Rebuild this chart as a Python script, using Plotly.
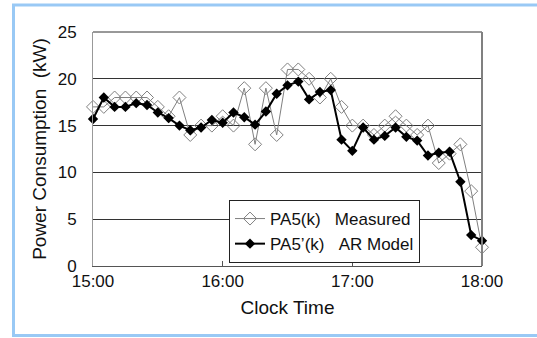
import plotly.graph_objects as go
import pandas as pd

times = ["15:00", "15:05", "15:10", "15:15", "15:20", "15:25", "15:30", "15:35", "15:40", "15:45",
         "15:50", "15:55", "16:00", "16:05", "16:10", "16:15", "16:20", "16:25", "16:30", "16:35",
         "16:40", "16:45", "16:50", "16:55", "17:00", "17:05", "17:10", "17:15", "17:20", "17:25",
         "17:30", "17:35", "17:40", "17:45", "17:50", "17:55", "18:00"]

measured = [17, 17, 18, 18, 18, 18, 17, 16, 18, 14,
            15, 15, 16, 15, 19, 13, 19, 14, 21, 21,
            20, 18, 20, 17, 15, 15, 14, 15, 16, 15,
            14, 15, 11, 12, 13, 8, 2]

ar_model = [15.7, 18.0, 17.0, 17.0, 17.4, 17.2, 16.4, 15.8, 15.0, 14.5,
            14.8, 15.6, 15.3, 16.4, 15.9, 15.1, 16.5, 18.4, 19.3, 19.7,
            17.8, 18.6, 18.8, 13.5, 12.3, 14.8, 13.5, 13.9, 14.8, 13.8,
            13.4, 11.8, 12.1, 12.2, 9.0, 3.3, 2.7]

tick_vals = ["15:00", "16:00", "17:00", "18:00"]
y_ticks = [0, 5, 10, 15, 20, 25]

x = pd.to_datetime(["2000-01-01 " + t for t in times])
xt = pd.to_datetime(["2000-01-01 " + t for t in tick_vals])

FONT = "Liberation Sans, Arial, sans-serif"

fig = go.Figure()
fig.add_trace(go.Scatter(
    x=x, y=measured, mode="lines+markers",
    name="PA5(k)\u00a0\u00a0\u00a0Measured",
    line=dict(color="#808080", width=1),
    marker=dict(symbol="diamond-open", size=10, color="#808080", line=dict(width=1)),
    cliponaxis=False,
))
fig.add_trace(go.Scatter(
    x=x, y=ar_model, mode="lines+markers",
    name="PA5\u2019(k)\u00a0\u00a0\u00a0AR Model",
    line=dict(color="#000000", width=2),
    marker=dict(symbol="diamond", size=8, color="#000000"),
    cliponaxis=False,
))

L, R, T, B = 93, 55, 32, 72
W, H = 537, 338
pw, ph = W - L - R, H - T - B

def px(xp):
    return (xp - L) / pw

def py(yp):
    return (H - B - yp) / ph

shapes = [
    # blue outer frame (open on the right)
    dict(type="rect", xref="paper", yref="paper", x0=px(13.5), x1=px(560), y0=py(335.5), y1=py(5),
         line=dict(color="#99C9F5", width=3), fillcolor="rgba(0,0,0,0)", layer="below"),
    # plot box top and right
    dict(type="line", xref="paper", yref="paper", x0=0, x1=1, y0=1, y1=1,
         line=dict(color="#333333", width=1)),
    dict(type="line", xref="paper", yref="paper", x0=1, x1=1, y0=0, y1=1,
         line=dict(color="#808080", width=2)),
]

fig.update_layout(
    width=W, height=H,
    margin=dict(l=L, r=R, t=T, b=B),
    paper_bgcolor="white", plot_bgcolor="white",
    font=dict(family=FONT, size=17, color="#111111"),
    showlegend=True,
    legend=dict(x=px(229), y=py(200), xanchor="left", yanchor="top",
                bgcolor="white", bordercolor="#222222", borderwidth=1,
                font=dict(size=17), itemwidth=30, tracegroupgap=0),
    shapes=shapes,
    xaxis=dict(
        range=[xt[0], xt[-1]], tickvals=xt, ticktext=tick_vals,
        showgrid=False, zeroline=False,
        showline=True, linecolor="#555555", linewidth=1,
        ticks="inside", ticklen=5, tickcolor="#555555",
        tickfont=dict(size=17),
        title=dict(text="Clock Time", font=dict(size=19), standoff=10),
    ),
    yaxis=dict(
        range=[0, 25], tickvals=y_ticks,
        showgrid=True, gridcolor="#333333", gridwidth=1,
        zeroline=False, showline=True, linecolor="#999999", linewidth=1,
        ticks="", ticklabelstandoff=12,
        tickfont=dict(size=17),
        title=dict(text="Power Consumption\u00a0\u00a0(kW)", font=dict(size=19), standoff=6),
    ),
)

fig.write_html("out.html", config={"displayModeBar": False},
               post_script="document.body.style.margin='0';document.body.style.overflow='hidden';")
